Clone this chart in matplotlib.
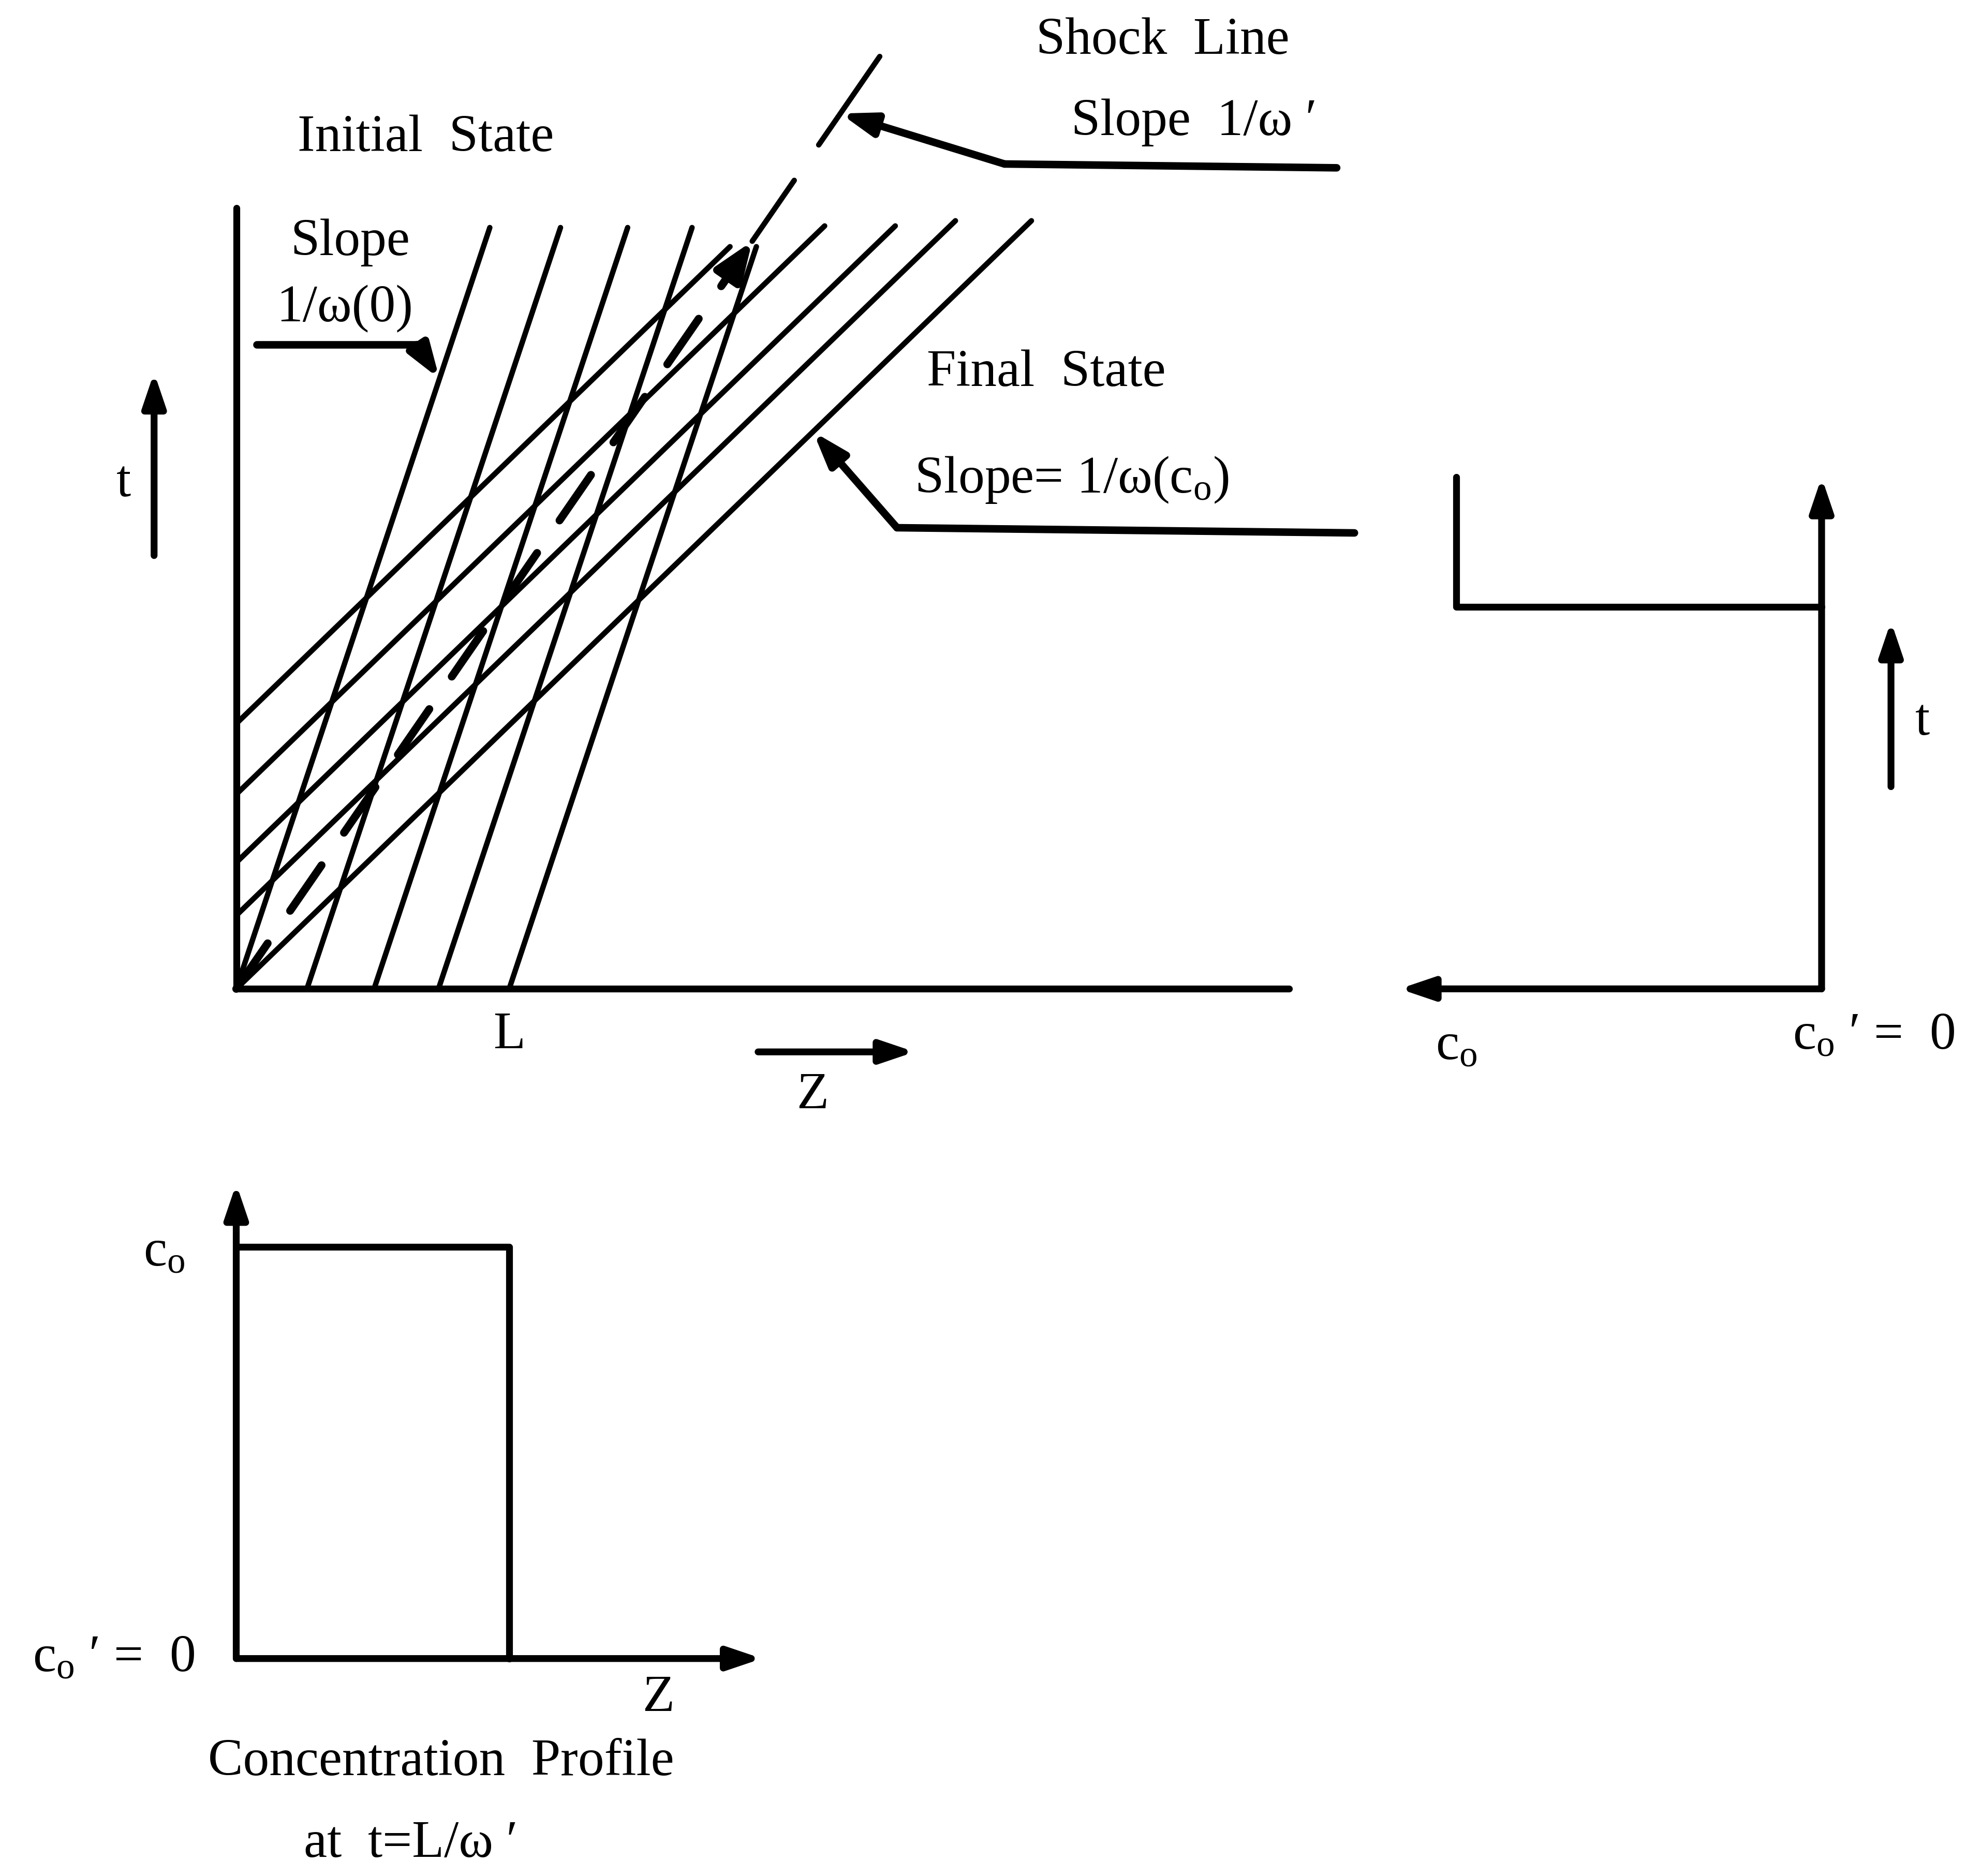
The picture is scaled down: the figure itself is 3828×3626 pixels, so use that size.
import matplotlib
matplotlib.use("Agg")
import matplotlib.pyplot as plt

plt.rcParams["font.family"] = ["Liberation Serif", "DejaVu Serif"]
plt.rcParams["mathtext.fontset"] = "custom"
plt.rcParams["mathtext.rm"] = "Liberation Serif"
plt.rcParams["mathtext.it"] = "Liberation Serif:italic"

# characteristics in the z-t plane, z and t in units of L
omega_0 = 0.333        # dz/dt, initial state (c = 0)
omega_c0 = 1.035       # dz/dt, final state (c = c0)
omega_shock = 0.69     # dz/dt of the shock
z0_initial = [0.0, 0.259, 0.505, 0.741, 1.0]
t_top_initial = [2.79, 2.79, 2.79, 2.79, 2.72]
t0_final = [0.972, 0.713, 0.463, 0.269, 0.0]
t_top_final = [2.72, 2.796, 2.796, 2.815, 2.815]
shock_dashed = (0.0, 2.60)
shock_tip = 2.74
shock_solid = [(2.74, 2.963), (3.093, 3.417)]
z_max, t_max = 3.857, 2.861

# concentration leaving the column at z = L
t_out = [1.40, 1.40, 1.875]
c_out = [0.0, 1.0, 1.0]
t_max_out, c_max_out = 1.875, 1.156

# concentration profile at t = L/omega'
z_prof = [0.0, 1.0, 1.0]
c_prof = [1.0, 1.0, 0.0]
z_max_prof, c_max_prof = 1.926, 1.153

W, H = 3828, 3626
fig = plt.figure(figsize=(W / 100, H / 100), dpi=100)
fig.patch.set_facecolor("white")

PX = 527.4          # pixels per unit of z or t
PXC_OUT = 705.6     # pixels per c0, outlet panel
PXC_PROF = 795.9    # pixels per c0, profile panel

FS = 73
LW = 7.5
AXW = 9.5


def panel(left, top, w, h):
    # left/top in pixels from the top-left corner of the figure
    a = fig.add_axes([left / W, 1 - (top + h) / H, w / W, h / H])
    a.axis("off")
    return a


def arrow(a, tail, tip, lw=AXW, scale=60, hw=0.22):
    a.annotate("", xy=tip, xytext=tail, xycoords="data", annotation_clip=False,
               arrowprops=dict(arrowstyle=f"-|>,head_length=0.65,head_width={hw}",
                               lw=lw, color="black", shrinkA=0, shrinkB=0,
                               mutation_scale=scale))


def line(a, x, y, lw=LW, **kw):
    a.plot(x, y, color="black", lw=lw, clip_on=False,
           solid_capstyle="round", **kw)


def label(a, x, y, s, **kw):
    a.text(x, y, s, fontsize=FS, ha="center", va="center", clip_on=False, **kw)


# ---------------- z-t diagram ----------------
ax = panel(456.5, 1911.3 - t_max * PX, z_max * PX, t_max * PX)
ax.set_xlim(0, z_max)
ax.set_ylim(0, t_max)

line(ax, [0, 0], [0, t_max], lw=AXW)
line(ax, [0, z_max], [0, 0], lw=AXW)

for z0, t1 in zip(z0_initial, t_top_initial):
    line(ax, [z0, z0 + omega_0 * t1], [0, t1])

for t0, t1 in zip(t0_final, t_top_final):
    line(ax, [0, omega_c0 * (t1 - t0)], [t0, t1])

# shock path: dashed up to the arrowhead, then solid
ts0, ts1 = shock_dashed
line(ax, [omega_shock * ts0, omega_shock * ts1], [ts0, ts1], lw=11,
     linestyle=(0, (7, 5)), dash_capstyle="round")
arrow(ax, (omega_shock * 2.58, 2.58), (omega_shock * shock_tip, shock_tip),
      lw=11, scale=70, hw=0.25)
for ta, tb in shock_solid:
    line(ax, [omega_shock * ta, omega_shock * tb], [ta, tb])

# labels and leaders
label(ax, 3.394, 3.472, "Shock  Line")
label(ax, 3.509, 3.176, "Slope  1/ω ′")
t_hit = 3.208
line(ax, [4.032, 2.815], [3.009, 3.023], lw=AXW + 1)
arrow(ax, (2.815, 3.023), (omega_shock * t_hit, t_hit), lw=AXW + 1)

label(ax, 0.694, 3.116, "Initial  State")
label(ax, 0.417, 2.736, "Slope")
label(ax, 0.398, 2.491, "1/ω(0)")
t_hit = 2.236
line(ax, [0.074, 0.662], [2.361, 2.361], lw=AXW + 1)
arrow(ax, (0.662, 2.361), (omega_0 * t_hit, t_hit), lw=AXW + 1)

label(ax, 2.968, 2.255, "Final  State")
label(ax, 3.060, 1.866, r"Slope= 1/ω($\mathrm{c_o}$)")
t_hit = 2.042
line(ax, [4.097, 2.421], [1.671, 1.690], lw=AXW + 1)
arrow(ax, (2.421, 1.690), (omega_c0 * t_hit, t_hit), lw=AXW + 1)

arrow(ax, (-0.301, 1.588), (-0.301, 2.259))
label(ax, -0.412, 1.852, "t")
label(ax, 1.0, -0.171, "L")
arrow(ax, (1.912, -0.231), (2.486, -0.231))
label(ax, 2.111, -0.394, "Z")

# ---------------- outlet concentration vs t ----------------
axr = panel(3520 - c_max_out * PXC_OUT, 1911.3 - t_max_out * PX,
            c_max_out * PXC_OUT, t_max_out * PX)
axr.set_xlim(c_max_out, 0)
axr.set_ylim(0, t_max_out)
arrow(axr, (0, 0), (0, t_max_out))
arrow(axr, (0, 0), (c_max_out, 0))
line(axr, c_out, t_out, lw=AXW)
arrow(axr, (-0.19, 0.741), (-0.19, 1.347))
label(axr, -0.277, 0.977, "t")
label(axr, 1.0, -0.212, r"$\mathrm{c_o}$")
label(axr, -0.142, -0.175, r"$\mathrm{c_o}$ ′ =  0")

# ---------------- concentration profile ----------------
axb = panel(456.5, 3205.7 - c_max_prof * PXC_PROF,
            z_max_prof * PX, c_max_prof * PXC_PROF)
axb.set_xlim(0, z_max_prof)
axb.set_ylim(0, c_max_prof)
arrow(axb, (0, 0), (0, c_max_prof))
arrow(axb, (0, 0), (z_max_prof, 0))
line(axb, z_prof, c_prof, lw=AXW)
label(axb, -0.264, 0.985, r"$\mathrm{c_o}$")
label(axb, -0.449, 0.0, r"$\mathrm{c_o}$ ′ =  0")
label(axb, 1.546, -0.098, "Z")
label(axb, 0.75, -0.252, "Concentration  Profile")
label(axb, 0.639, -0.451, "at  t=L/ω ′")

fig.savefig("out.png", dpi=100, facecolor="white")
